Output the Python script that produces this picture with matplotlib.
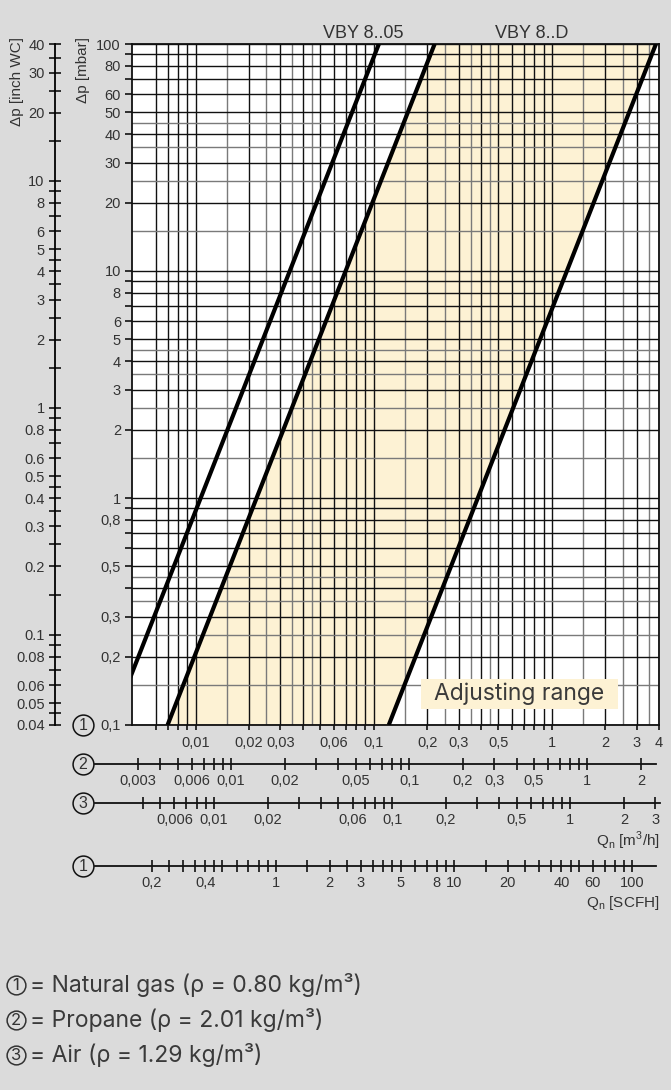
import matplotlib
matplotlib.use("Agg")
import matplotlib.pyplot as plt
import numpy as np
from matplotlib.patches import Rectangle
from matplotlib.ticker import NullLocator

W, H = 671, 1090
BG = '#dbdbdb'
CREAM = '#fdf2d4'
INK = '#333333'

plt.rcParams['font.family'] = ['Liberation Sans', 'DejaVu Sans']

# flow limits of the chart [m3/h natural gas] and pressure drop limits [mbar]
q_lim = [0.0044, 4.0]
dp_lim = [0.1, 100.0]

# the three characteristic lines, read at 0.1 mbar and at 100 mbar
dp_end = [0.1, 100.0]
q_vby805 = [0.00338, 0.107]
q_vby8d_min = [0.00697, 0.220]
q_vby8d_max = [0.1216, 3.845]

# gas densities [kg/m3]: natural gas, propane, air
gas_names = ['Natural gas', 'Propane', 'Air']
gas_rho = [0.80, 2.01, 1.29]
MBAR_TO_INWC = 0.4015
M3H_TO_SCFH = 35.31

# tick labels
y_mbar_labels = [0.1, 0.2, 0.3, 0.5, 0.8, 1, 2, 3, 4, 5, 6, 8, 10, 20, 30, 40, 50, 60, 80, 100]
y_inwc_labels = [0.04, 0.05, 0.06, 0.08, 0.1, 0.2, 0.3, 0.4, 0.5, 0.6, 0.8, 1, 2, 3, 4, 5, 6, 8,
                 10, 20, 30, 40]
x_ng_labels = [0.01, 0.02, 0.03, 0.06, 0.1, 0.2, 0.3, 0.5, 1, 2, 3, 4]
x_propane_labels = [0.003, 0.006, 0.01, 0.02, 0.05, 0.1, 0.2, 0.3, 0.5, 1, 2]
x_air_labels = [0.006, 0.01, 0.02, 0.06, 0.1, 0.2, 0.5, 1, 2, 3]
x_scfh_labels = [0.2, 0.4, 1, 2, 3, 5, 8, 10, 20, 40, 60, 100]

STD = [1, 2, 3, 4, 5, 6, 7, 8, 9]
FINE = [1, 1.5, 2, 2.5, 3, 3.5, 4, 4.5, 5, 6, 7, 8, 9]
TICK_FS = 10.5
SANS = ['Inter', 'DejaVu Sans']


def log_values(mults, lo, hi):
    vals = []
    for e in range(-4, 4):
        for m in mults:
            v = round(m * 10.0 ** e, 8)
            if lo * 0.999 <= v <= hi * 1.001:
                vals.append(v)
    return vals


def is_half(v):
    return abs(v / 10 ** np.floor(np.log10(v) + 1e-9) % 1 - 0.5) < 1e-6


def fmt(v, sep=','):
    return ('%g' % v).replace('.', sep)


def fx(px):
    return px / W


def fy(py):
    return 1 - py / H


fig = plt.figure(figsize=(W / 100, H / 100), dpi=100, facecolor=BG)

# main diagram
ax = fig.add_axes([fx(132), fy(725), (659 - 132) / W, (725 - 44) / H])
ax.set_facecolor('white')
ax.set_xscale('log')
ax.set_yscale('log')
ax.set_xlim(q_lim)
ax.set_ylim(dp_lim)

ax.fill_betweenx(dp_end, q_vby8d_min, q_vby8d_max, color=CREAM, lw=0, zorder=1)

for v in log_values(FINE, 0.006, q_lim[1]):
    ax.axvline(v, color='#7a7a7a' if is_half(v) else '#111111', lw=1.0, zorder=2)
for v in log_values(FINE, dp_lim[0], dp_lim[1]):
    ax.axhline(v, color='#7a7a7a' if is_half(v) else '#111111', lw=1.0, zorder=2)

for q in (q_vby805, q_vby8d_min, q_vby8d_max):
    ax.plot(q, dp_end, color='black', lw=3.0, solid_capstyle='butt', zorder=4)

for s in ax.spines.values():
    s.set_linewidth(1.3)
    s.set_color('#111111')

yt = log_values(STD, dp_lim[0], dp_lim[1])
ax.set_yticks(yt)
ax.set_yticklabels([fmt(v) if v in y_mbar_labels else '' for v in yt])
ax.yaxis.set_minor_locator(NullLocator())
xt = log_values(STD, 0.006, q_lim[1])
ax.set_xticks(xt)
ax.set_xticklabels([fmt(v) if v in x_ng_labels else '' for v in xt])
ax.xaxis.set_minor_locator(NullLocator())
ax.tick_params(axis='y', direction='out', length=5, width=1.2, pad=3, labelsize=TICK_FS,
               colors='#111111', labelcolor=INK)
ax.tick_params(axis='x', direction='out', length=3.6, width=1.2, pad=4, labelsize=TICK_FS,
               colors='#111111', labelcolor=INK)

# inch WC scale on the far left
axl = fig.add_axes([fx(55), fy(725), 0.002, (725 - 44) / H])
axl.patch.set_visible(False)
for k in ('top', 'right', 'bottom'):
    axl.spines[k].set_visible(False)
axl.spines['left'].set_linewidth(1.3)
axl.set_yscale('log')
axl.set_ylim(dp_lim[0] * MBAR_TO_INWC, dp_lim[1] * MBAR_TO_INWC)
lt = log_values(FINE, 0.04, 40)
axl.set_yticks(lt)
axl.set_yticklabels([fmt(v, '.') if v in y_inwc_labels else '' for v in lt])
axl.yaxis.set_minor_locator(NullLocator())
axl.set_xticks([])
axl.tick_params(axis='y', direction='inout', length=9, width=1.2, pad=3, labelsize=TICK_FS,
                colors='#111111', labelcolor=INK)

fig.text(fx(17), fy(37), 'Δp [inch WC]', rotation=90, ha='center', va='top',
         fontsize=11, color=INK)
fig.text(fx(83), fy(37), 'Δp [mbar]', rotation=90, ha='center', va='top',
         fontsize=11, color=INK)

fig.text(fx(363), fy(33), 'VBY 8..05', ha='center', va='center', fontsize=13, color=INK)
fig.text(fx(532), fy(33), 'VBY 8..D', ha='center', va='center', fontsize=13, color=INK)


# converted flow scales below the diagram
def flow_scale(y_px, factor, mults, lo, hi, labels, x_right_px):
    a = fig.add_axes([fx(132), fy(y_px), (659 - 132) / W, 1 / H])
    a.patch.set_visible(False)
    for s in a.spines.values():
        s.set_visible(False)
    a.set_xscale('log')
    a.set_xlim(q_lim[0] * factor, q_lim[1] * factor)
    a.set_ylim(0, 1)
    a.set_yticks([])
    t = log_values(mults, lo, hi)
    a.set_xticks(t)
    a.set_xticklabels([fmt(v) if v in labels else '' for v in t])
    a.xaxis.set_minor_locator(NullLocator())
    a.tick_params(axis='x', direction='inout', length=8, width=1.2, pad=3, labelsize=TICK_FS,
                  colors='#111111', labelcolor=INK)
    x0 = (95 - 132) / (659 - 132)
    x1 = (x_right_px - 132) / (659 - 132)
    a.plot([x0, x1], [0, 0], transform=a.transAxes, color='#111111', lw=1.3, clip_on=False)
    return a


f_propane = 1 / np.sqrt(gas_rho[1] / gas_rho[0])
f_air = 1 / np.sqrt(gas_rho[2] / gas_rho[0])
flow_scale(764, f_propane, STD, 0.003, 2, x_propane_labels, 656)
flow_scale(803, f_air, STD, 0.004, 3, x_air_labels, 660)
flow_scale(866, M3H_TO_SCFH, FINE, 0.2, 100, x_scfh_labels, 656)

fig.text(fx(660), fy(841), 'Q$_\\mathregular{n}$ [m$^\\mathregular{3}$/h]', ha='right',
         va='center', fontsize=11, color=INK)
fig.text(fx(660), fy(903), 'Q$_\\mathregular{n}$ [SCFH]', ha='right', va='center',
         fontsize=11, color=INK)

# overlay in pixel coordinates for the label box and the circled gas numbers
ov = fig.add_axes([0, 0, 1, 1])
ov.set_xlim(0, W)
ov.set_ylim(H, 0)
ov.axis('off')

ov.add_patch(Rectangle((421, 679), 197, 30, fc=CREAM, ec='none'))
ov.text(519, 694, 'Adjusting range', ha='center', va='center', fontsize=16.5,
        color='#3a3a3a', family=SANS)

for num, ypx in ((1, 725), (2, 764), (3, 803), (1, 866)):
    ov.plot(83, ypx, 'o', ms=15, mfc=BG, mec='#111111', mew=1.1)
    ov.text(83, ypx + 0.5, str(num), ha='center', va='center', fontsize=11.5, color=INK)

for i, (name, rho) in enumerate(zip(gas_names, gas_rho)):
    ypx = 985 + 35 * i
    ov.plot(16, ypx, 'o', ms=13.5, mfc='none', mec=INK, mew=1.1)
    ov.text(16, ypx + 0.5, str(i + 1), ha='center', va='center', fontsize=12, color=INK,
            family=SANS)
    ov.text(30, ypx, '= %s (ρ = %.2f kg/m³)' % (name, rho), ha='left', va='center',
            fontsize=16.5, color='#3a3a3a', family=SANS)

fig.savefig('out.png', dpi=100, facecolor=BG)
